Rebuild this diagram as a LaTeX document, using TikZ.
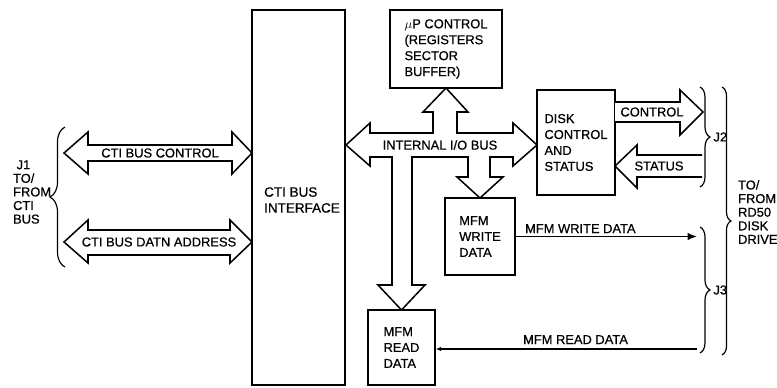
\documentclass[tikz,border=0pt]{standalone}
\usepackage{fontspec}
\setmainfont{Liberation Sans}[FakeBold=0.6]
\usetikzlibrary{arrows.meta, decorations.pathreplacing, calc}

\begin{document}
\begin{tikzpicture}[
    x=0.03cm, y=-0.03cm,
    every node/.style={font=\fontsize{11}{13.6}\selectfont},
    box/.style={draw, line width=1.4pt, fill=white, align=left, inner sep=0pt},
    bus/.style={draw, line width=1.3pt, line join=miter, fill=white},
    lbl/.style={align=left, font=\fontsize{11}{11.6}\selectfont},
    arrow/.style={-{Latex[length=2.8mm, width=2.2mm]}, line width=1.1pt},
    smallarrow/.style={-{Latex[length=1.6mm, width=1.4mm]}, line width=1.1pt},
    brace/.style={decorate, decoration={brace, amplitude=#1}, line width=1pt},
    brace/.default=0.3cm,
  ]
    \useasboundingbox (0,0) rectangle (777,387);

    % Internal I/O bus with its branches
    \draw[bus] (346,145) -- (370,123) -- (370,133) -- (433,133) -- (433,112) -- (423,112)
      -- (446,88) -- (468,112) -- (457,112) -- (457,133) -- (513,133) -- (513,123)
      -- (537,145) -- (513,166) -- (513,157) -- (490,157) -- (490,177) -- (503,177)
      -- (480,198) -- (457,177) -- (468,177) -- (468,157) -- (412,157) -- (412,285)
      -- (425,285) -- (401.5,310) -- (378,285) -- (392,285) -- (392,157) -- (370,157)
      -- (370,166) -- cycle;
    \node (iobus) at (440,145) {INTERNAL I/O BUS};

    % Blocks
    \node[box, minimum width=2.79cm, minimum height=11.25cm] (cti) at (298.5,197.5) {};
    \node[lbl, font=\fontsize{11.5}{13.6}\selectfont] (ctitext) at (302,200) {CTI BUS\\INTERFACE};
    \node[box, minimum width=3.36cm, minimum height=2.34cm] (mup) at (446,49) {$\mu$P CONTROL\\(REGISTERS\\SECTOR\\BUFFER)};
    \node[box, minimum width=2.34cm, minimum height=3.15cm] (disk) at (576,142.5) {DISK\\CONTROL\\AND\\STATUS};
    \node[box, minimum width=2.1cm, minimum height=2.31cm] (write) at (480,236.5) {MFM\\WRITE\\DATA};
    \node[box, minimum width=2.01cm, minimum height=2.25cm] (read) at (401.5,347.5) {MFM\\READ\\DATA};

    % CTI side buses
    \draw[bus] (64,153) -- (88,132) -- (88,145) -- (232,145) -- (232,132) -- (252,153)
      -- (232,174) -- (232,161) -- (88,161) -- (88,174) -- cycle;
    \node (ctictl) at (160,153) {CTI BUS CONTROL};
    \draw[bus] (64,242) -- (88,220) -- (88,230) -- (230,230) -- (230,220) -- (252,242)
      -- (230,263) -- (230,255) -- (88,255) -- (88,263) -- cycle;
    \node (ctidat) at (159,242) {CTI BUS DATN ADDRESS};

    % Drive side buses
    \draw[bus] (615,102) -- (680,102) -- (680,90) -- (703,112) -- (680,135) -- (680,122) -- (615,122);
    \node (ctl) at (652,112) {CONTROL};
    \draw[bus] (702,155) -- (637,155) -- (637,145) -- (615,166) -- (637,188) -- (637,177) -- (702,177);
    \node (stat) at (659,166) {STATUS};

    % Serial data
    \coordinate (j3w) at (697,236.5);
    \coordinate (j3r) at (697,349);
    \draw[arrow] (write.east) -- (j3w);
    \node[anchor=base west] at (521,233) {MFM WRITE DATA};
    \draw[smallarrow] (j3r) -- (j3r -| read.east);
    \node[anchor=base west] at (519,344) {MFM READ DATA};

    % Connectors
    \draw[brace=0.45cm] (65,267) -- (65,127);
    \node[lbl, anchor=west] (j1) at (9,192) {\hspace*{3pt}J1\\TO/\\FROM\\CTI\\BUS};
    \draw[brace] (700,87) -- (700,187) node[midway, right=11pt, inner sep=0pt] (j2) {J2};
    \draw[brace] (700,227) -- (700,353) node[midway, right=11pt, inner sep=0pt] (j3) {J3};
    \draw[brace=0.27cm] (722,87) -- (722,355);
    \node[lbl, anchor=west] (rd50) at (734,212) {TO/\\FROM\\RD50\\DISK\\DRIVE};
\end{tikzpicture}
\end{document}
